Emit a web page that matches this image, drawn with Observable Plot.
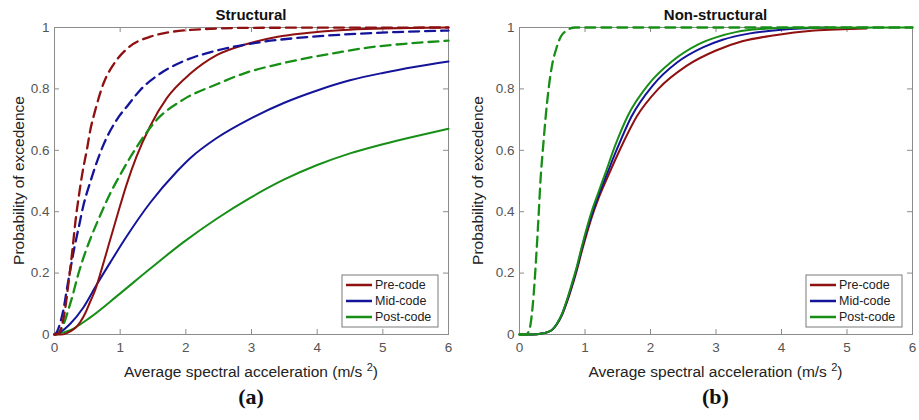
<!DOCTYPE html>
<html><head><meta charset="utf-8">
<script src="https://cdn.jsdelivr.net/npm/d3@7"></script>
<script src="https://cdn.jsdelivr.net/npm/@observablehq/plot@0.6"></script>
<style>
body{margin:0;background:#fff;}
#row{display:flex;width:919px;height:420px;overflow:hidden;}
</style></head><body><div id="row"></div>
<script>
const xTicks=[0,1,2,3,4,5,6];
const xTickLabels=["0","1","2","3","4","5","6"];
const yTicks=[0,0.2,0.4,0.6,0.8,1];
const yTickLabels=["0","0.2","0.4","0.6","0.8","1"];
const seriesNames=["Pre-code","Mid-code","Post-code"];
const seriesColors=["#8e1010","#14149a","#178f17"];
const panelTitles=["Structural","Non-structural"];
const panelTags=["(a)","(b)"];
const xLabelMain="Average spectral acceleration (m/s";
const xLabelSup="2";
const yLabel="Probability of excedence";

// (a) Structural — solid curves
const strPreSolid=[[0,0],[0.1,0],[0.17,0.003],[0.24,0.01],[0.32,0.022],[0.39,0.04],[0.47,0.07],[0.54,0.105],[0.62,0.145],[0.7,0.20],[0.85,0.31],[1.0,0.42],[1.1,0.49],[1.25,0.58],[1.46,0.68],[1.71,0.77],[2.07,0.85],[2.47,0.91],[2.93,0.946],[3.4,0.97],[3.84,0.982],[4.4,0.992],[4.86,0.996],[5.4,0.998],[6,1]];
const strMidSolid=[[0,0],[0.09,0.008],[0.24,0.035],[0.44,0.088],[0.65,0.165],[0.85,0.235],[1.1,0.32],[1.46,0.43],[1.86,0.53],[2.07,0.575],[2.47,0.64],[3.0,0.705],[3.5,0.755],[4.0,0.795],[4.5,0.828],[5.0,0.852],[5.5,0.872],[6,0.889]];
const strPostSolid=[[0,0],[0.24,0.014],[0.54,0.055],[0.95,0.125],[1.46,0.215],[1.96,0.30],[2.47,0.377],[2.98,0.445],[3.5,0.505],[4.0,0.552],[4.5,0.59],[5.0,0.62],[5.5,0.646],[6,0.67]];
// (a) Structural — dashed curves
const strPreDash=[[0,0],[0.05,0.002],[0.1,0.02],[0.16,0.08],[0.22,0.18],[0.27,0.27],[0.32,0.37],[0.37,0.45],[0.42,0.52],[0.5,0.61],[0.54,0.66],[0.62,0.73],[0.75,0.82],[0.9,0.88],[1.1,0.93],[1.46,0.97],[2.07,0.992],[3,0.999],[6,1]];
const strMidDash=[[0,0],[0.04,0.01],[0.09,0.04],[0.14,0.085],[0.19,0.15],[0.24,0.21],[0.3,0.28],[0.37,0.35],[0.44,0.42],[0.55,0.5],[0.65,0.565],[0.75,0.62],[0.95,0.70],[1.13,0.75],[1.3,0.795],[1.61,0.85],[1.96,0.89],[2.47,0.925],[3.13,0.952],[3.8,0.968],[4.4,0.977],[5.2,0.985],[6,0.99]];
const strPostDash=[[0,0],[0.05,0.003],[0.09,0.014],[0.15,0.04],[0.21,0.08],[0.28,0.13],[0.34,0.18],[0.41,0.23],[0.49,0.28],[0.6,0.34],[0.7,0.39],[0.85,0.46],[1.0,0.52],[1.25,0.61],[1.56,0.70],[1.96,0.765],[2.47,0.815],[2.88,0.85],[3.4,0.88],[3.84,0.90],[4.35,0.92],[4.86,0.937],[5.4,0.948],[6,0.957]];

// (b) Non-structural — solid curves
const nsPreSolid=[[0,0],[0.2,0],[0.34,0.003],[0.49,0.014],[0.57,0.033],[0.65,0.064],[0.72,0.103],[0.8,0.155],[0.88,0.213],[0.95,0.27],[1.1,0.38],[1.2,0.44],[1.36,0.52],[1.55,0.61],[1.79,0.71],[2.12,0.80],[2.55,0.875],[3.0,0.925],[3.4,0.955],[3.9,0.975],[4.5,0.99],[5.3,0.997]];
const nsMidSolid=[[0,0],[0.2,0],[0.34,0.003],[0.49,0.014],[0.57,0.034],[0.65,0.066],[0.72,0.107],[0.8,0.16],[0.88,0.22],[0.95,0.28],[1.1,0.39],[1.2,0.45],[1.33,0.52],[1.5,0.61],[1.71,0.71],[2.03,0.81],[2.4,0.885],[2.8,0.935],[3.1,0.96],[3.5,0.98],[4.0,0.993],[4.7,1]];
const nsPostSolid=[[0,0],[0.2,0],[0.34,0.003],[0.49,0.014],[0.57,0.035],[0.65,0.068],[0.72,0.11],[0.8,0.166],[0.88,0.225],[0.95,0.285],[1.1,0.40],[1.2,0.46],[1.31,0.525],[1.46,0.615],[1.66,0.715],[1.97,0.815],[2.33,0.89],[2.73,0.945],[3.0,0.968],[3.3,0.985],[3.67,0.995],[4.2,0.999],[6,1]];
// (b) Non-structural — dashed curve
const nsPostDash=[[0,0],[0.1,0],[0.14,0.01],[0.17,0.035],[0.2,0.09],[0.23,0.17],[0.26,0.27],[0.29,0.38],[0.32,0.5],[0.36,0.61],[0.4,0.71],[0.45,0.81],[0.5,0.88],[0.56,0.93],[0.63,0.97],[0.72,0.99],[0.85,1],[6,1]];

const panels=[
  {width:459, ml:54, mr:11,
   curves:[
    {data:strPostSolid,s:2,dash:false},{data:strMidSolid,s:1,dash:false},{data:strPreSolid,s:0,dash:false},
    {data:strPostDash,s:2,dash:true},{data:strMidDash,s:1,dash:true},{data:strPreDash,s:0,dash:true}]},
  {width:460, ml:60, mr:7,
   curves:[
    {data:nsPreSolid,s:0,dash:false},{data:nsMidSolid,s:1,dash:false},{data:nsPostSolid,s:2,dash:false},
    {data:nsPostDash,s:2,dash:true}]}
];

const FONT='"Liberation Sans", Arial, sans-serif';
const frameColor="#8c8c8c";

panels.forEach((p,pi)=>{
  const H=420, mt=27, mb=86;
  const plotW=p.width-p.ml-p.mr, plotH=H-mt-mb;
  const marks=[
    Plot.frame({stroke:frameColor}),
    Plot.tickX(xTicks,{x:d=>d, insetTop:plotH-5, stroke:frameColor}),
    Plot.tickX(xTicks,{x:d=>d, insetBottom:plotH-5, stroke:frameColor}),
    Plot.tickY(yTicks,{y:d=>d, insetRight:plotW-5, stroke:frameColor}),
    Plot.tickY(yTicks,{y:d=>d, insetLeft:plotW-5, stroke:frameColor}),
    Plot.axisX({ticks:xTicks, tickSize:0, tickPadding:8, label:null, fill:"#555", fontSize:13.5,
      tickFormat:d=>xTickLabels[xTicks.indexOf(d)]}),
    Plot.axisY({ticks:yTicks, tickSize:0, tickPadding:5, label:null, fill:"#555", fontSize:13.5,
      tickFormat:d=>yTickLabels[yTicks.indexOf(d)]})
  ];
  p.curves.forEach(c=>{
    marks.push(Plot.line(c.data,{x:d=>d[0], y:d=>d[1], stroke:seriesColors[c.s],
      strokeWidth:c.dash?2.3:2, strokeDasharray:c.dash?"10,6":null, curve:"monotone-x"}));
  });
  const plot=Plot.plot({
    width:p.width, height:H, marginLeft:p.ml, marginRight:p.mr, marginTop:mt, marginBottom:mb,
    x:{domain:[0,6]}, y:{domain:[0,1]},
    style:{fontFamily:FONT, fontSize:"13.5px", background:"white", overflow:"visible"},
    marks
  });
  document.getElementById("row").appendChild(plot);
  const svg=d3.select(plot);
  const xs=plot.scale("x"), ys=plot.scale("y");
  const x0=xs.apply(0), x1=xs.apply(6), yT=ys.apply(1), yB=ys.apply(0);
  const cx=(x0+x1)/2;
  // title
  svg.append("text").attr("x",cx).attr("y",yT-7.5).attr("text-anchor","middle")
    .attr("font-family",FONT).attr("font-weight","bold").attr("font-size",15).attr("fill","#111")
    .text(panelTitles[pi]);
  // x label
  const xl=svg.append("text").attr("x",cx).attr("y",yB+43).attr("text-anchor","middle")
    .attr("font-family",FONT).attr("font-size",15.5).attr("fill","#222");
  xl.append("tspan").text(xLabelMain+" ");
  xl.append("tspan").attr("dy",-6).attr("font-size",11).text(xLabelSup);
  xl.append("tspan").attr("dy",6).text(")");
  // y label
  svg.append("text").attr("transform",`translate(18.5,${(yT+yB)/2}) rotate(-90)`)
    .attr("text-anchor","middle").attr("dominant-baseline","central")
    .attr("font-family",FONT).attr("font-size",15.5).attr("fill","#222").text(yLabel);
  // tag
  svg.append("text").attr("x",cx).attr("y",yB+70).attr("text-anchor","middle")
    .attr("font-family",'"Liberation Serif", "Times New Roman", serif').attr("font-weight","bold")
    .attr("font-size",22).attr("fill","#111").text(panelTags[pi]);
  // legend
  const lw=96, lh=52, lx=x1-10-lw, ly=yB-7-lh;
  const g=svg.append("g").attr("transform",`translate(${lx},${ly})`);
  g.append("rect").attr("x",0).attr("y",0).attr("width",lw).attr("height",lh)
    .attr("fill","white").attr("stroke","#7a7a7a");
  seriesNames.forEach((n,i)=>{
    const yy=10+i*16;
    g.append("line").attr("x1",4).attr("x2",30).attr("y1",yy).attr("y2",yy)
      .attr("stroke",seriesColors[i]).attr("stroke-width",2.5);
    g.append("text").attr("x",33).attr("y",yy).attr("text-anchor","start").attr("dominant-baseline","central")
      .attr("font-family",FONT).attr("font-size",12.5).attr("fill","#222").text(n);
  });
});
</script></body></html>
